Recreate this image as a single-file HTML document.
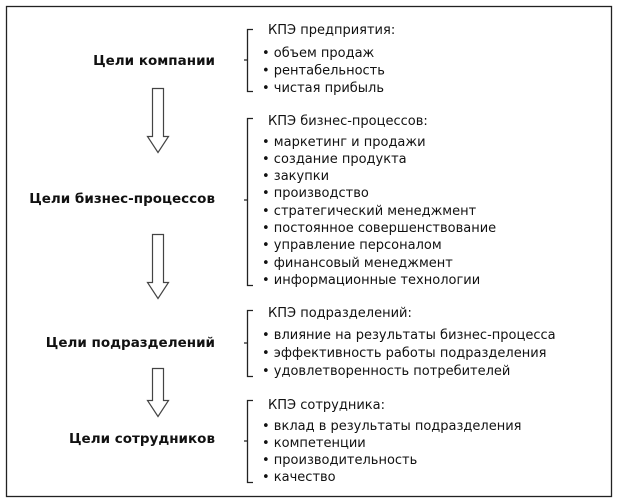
<!DOCTYPE html>
<html><head><meta charset="utf-8"><style>
html,body{margin:0;padding:0;background:#fff}
svg{display:block}
text{font-family:"DejaVu Sans","Liberation Sans",sans-serif;font-size:13px;fill:#111}
.b{font-weight:bold;font-size:13.5px}
</style></head><body>
<svg width="618" height="503" viewBox="0 0 618 503">
<rect x="6.5" y="6.5" width="605" height="490" fill="#fff" stroke="#222" stroke-width="1.3"/>
<g fill="#fff" stroke="#444" stroke-width="1.2">
<path d="M152.5 88.5 H163.5 V136.5 H168.5 L158 152.5 L147.5 136.5 H152.5 Z"/>
<path d="M152.5 234.5 H163.5 V282.5 H168.5 L158 298.5 L147.5 282.5 H152.5 Z"/>
<path d="M152.5 368.5 H163.5 V400.5 H168.5 L158 416.5 L147.5 400.5 H152.5 Z"/>
</g>
<g fill="none" stroke="#222" stroke-width="1.3">
<path d="M253 29.5 H247.5 V91.5 H253 M247.5 60 H244"/>
<path d="M253 118.5 H247.5 V285.5 H253 M247.5 200 H244"/>
<path d="M253 310.5 H247.5 V376.5 H253 M247.5 343 H244"/>
<path d="M253 400.5 H247.5 V482.5 H253 M247.5 441 H244"/>
</g>
<g text-anchor="end">
<text class="b" x="215" y="65">Цели компании</text>
<text class="b" x="215" y="203">Цели бизнес-процессов</text>
<text class="b" x="215" y="347">Цели подразделений</text>
<text class="b" x="215" y="443">Цели сотрудников</text>
</g>
<g>
<text x="268" y="34">КПЭ предприятия:</text>
<text x="262" y="57">• объем продаж</text>
<text x="262" y="74.5">• рентабельность</text>
<text x="262" y="92">• чистая прибыль</text>

<text x="268" y="125">КПЭ бизнес-процессов:</text>
<text x="262" y="146">• маркетинг и продажи</text>
<text x="262" y="163">• создание продукта</text>
<text x="262" y="180">• закупки</text>
<text x="262" y="197">• производство</text>
<text x="262" y="215">• стратегический менеджмент</text>
<text x="262" y="232">• постоянное совершенствование</text>
<text x="262" y="249">• управление персоналом</text>
<text x="262" y="267">• финансовый менеджмент</text>
<text x="262" y="284">• информационные технологии</text>

<text x="268" y="317">КПЭ подразделений:</text>
<text x="262" y="339">• влияние на результаты бизнес-процесса</text>
<text x="262" y="357">• эффективность работы подразделения</text>
<text x="262" y="375">• удовлетворенность потребителей</text>

<text x="268" y="409">КПЭ сотрудника:</text>
<text x="262" y="430">• вклад в результаты подразделения</text>
<text x="262" y="447">• компетенции</text>
<text x="262" y="464">• производительность</text>
<text x="262" y="481">• качество</text>
</g>
</svg>
</body></html>
